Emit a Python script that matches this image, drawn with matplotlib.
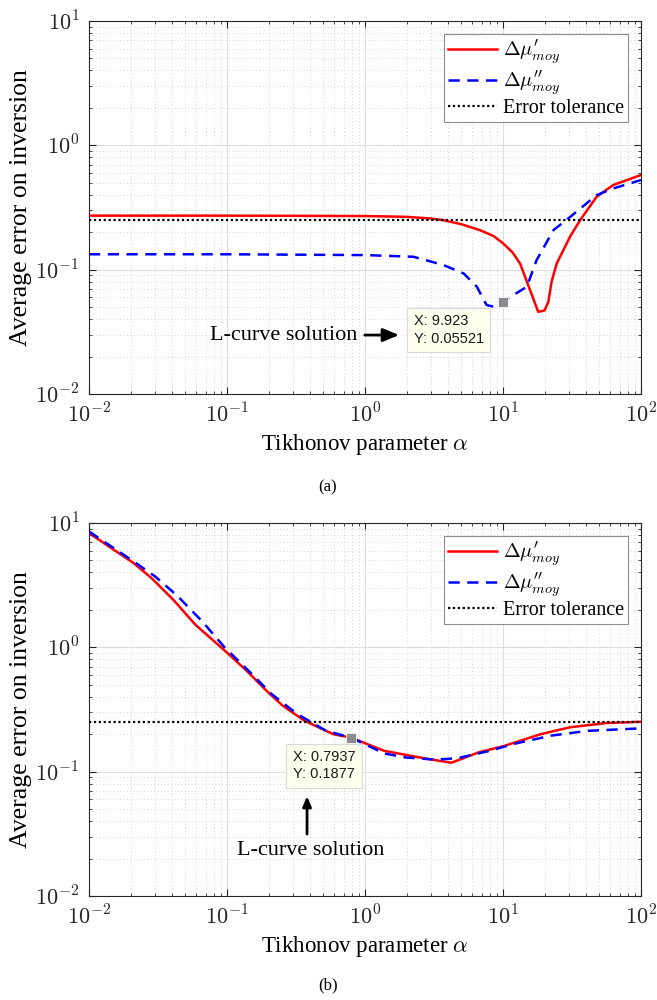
import matplotlib
matplotlib.use("Agg")
import numpy as np
import matplotlib.pyplot as plt
from matplotlib.ticker import LogLocator, NullFormatter, FuncFormatter

plt.rcParams['font.family'] = ['Liberation Serif', 'DejaVu Serif']
plt.rcParams['mathtext.fontset'] = 'cm'

# ---- panel (a) data ----
alpha_a_re = [0.01, 0.1, 1, 2, 3, 3.7, 5, 6.8, 8.5, 10, 11.7, 13.3, 15.7, 18, 20, 21.3, 22.5,
              24.5, 30.6, 36.2, 47.7, 63, 100]
err_a_re = [0.272, 0.272, 0.27, 0.266, 0.258, 0.25, 0.232, 0.208, 0.187, 0.163, 0.138, 0.112,
            0.0686, 0.0458, 0.047, 0.055, 0.08, 0.112, 0.184, 0.25, 0.386, 0.48, 0.577]
alpha_a_im = [0.01, 0.1, 1, 2.24, 3.7, 5.2, 6.46, 7.6, 8.75, 9.923, 11.9, 14.9, 17.5,
              23.2, 30.6, 47.7, 63, 100]
err_a_im = [0.133, 0.133, 0.131, 0.127, 0.109, 0.093, 0.073, 0.052, 0.050, 0.05521,
            0.0625, 0.073, 0.119, 0.208, 0.265, 0.398, 0.45, 0.526]
tip_a = (9.923, 0.05521)

# ---- panel (b) data ----
alpha_b_re = [0.01, 0.0211, 0.0285, 0.041, 0.059, 0.099, 0.138, 0.198, 0.253, 0.364,
              0.59, 0.7937, 1.38, 2.69, 4.23, 6.67, 10.2, 18.7, 30.3, 55.6, 100]
err_b_re = [8.3, 4.75, 3.59, 2.4, 1.52, 0.916, 0.652, 0.436, 0.34, 0.257,
            0.2, 0.1877, 0.147, 0.128, 0.118, 0.143, 0.161, 0.2, 0.227, 0.246, 0.252]
alpha_b_im = [0.01, 0.0211, 0.0303, 0.0436, 0.0667, 0.096, 0.147, 0.211, 0.322, 0.523,
              0.7937, 1.38, 1.98, 3.22, 4.63, 8.0, 12.2, 22.4, 41, 100]
err_b_im = [8.55, 4.9, 3.7, 2.6, 1.6, 1.0, 0.63, 0.42, 0.291, 0.213,
            0.1877, 0.14, 0.13, 0.125, 0.128, 0.147, 0.168, 0.195, 0.213, 0.223]
tip_b = (0.7937, 0.1877)

tolerance = 0.25


def decade_label(v, pos):
    return r'$10^{%d}$' % int(round(np.log10(v)))


def draw_panel(ax, ar, er, ai, ei, tip, tip_txt, tip_off):
    ax.plot(ar, er, color='#ff0000', lw=1.8, label=r"$\Delta\mu^{\prime}_{moy}$", zorder=3)
    ax.plot(ai, ei, color='#0000ff', lw=1.8, ls=(0, (4.5, 3)),
            label=r"$\Delta\mu^{\prime\prime}_{moy}$", zorder=3)
    ax.axhline(tolerance, color='black', lw=1.6, ls=(0, (1, 1.2)),
               label='Error tolerance', zorder=3)
    ax.set_xscale('log')
    ax.set_yscale('log')
    ax.set_xlim(1e-2, 1e2)
    ax.set_ylim(1e-2, 1e1)
    for axis in (ax.xaxis, ax.yaxis):
        axis.set_major_locator(LogLocator(base=10, numticks=10))
        axis.set_minor_locator(LogLocator(base=10, subs=range(2, 10), numticks=20))
        axis.set_major_formatter(FuncFormatter(decade_label))
        axis.set_minor_formatter(NullFormatter())
    ax.grid(True, which='major', color='#dedede', lw=0.8, ls='-')
    ax.grid(True, which='minor', color='#d4d4d4', lw=0.7, ls=(0, (1, 2.5)))
    ax.set_axisbelow(True)
    ax.tick_params(which='both', direction='in', top=True, right=True,
                   color='#262626', labelsize=16, pad=7, labelcolor='#262626')
    ax.tick_params(which='major', length=5)
    ax.tick_params(which='minor', length=2.5)
    for s in ax.spines.values():
        s.set_color('#262626')
        s.set_linewidth(0.8)
    ax.set_xlabel(r'Tikhonov parameter $\alpha$', fontsize=16.5, labelpad=3)
    ax.set_ylabel('Average error on inversion', fontsize=18.5, labelpad=2)

    leg = ax.legend(loc='upper right', bbox_to_anchor=(1 - 13 / 552, 1 - 13 / 373),
                    fontsize=14.5, fancybox=False, framealpha=1, edgecolor='#8c8c8c',
                    handlelength=2.4, handletextpad=0.3, borderpad=0.2,
                    labelspacing=0.1, borderaxespad=0)
    leg.get_frame().set_linewidth(0.8)

    ax.plot([tip[0]], [tip[1]], marker='s', ms=7, color='#8c8c8c',
            mec='white', mew=0.6, zorder=5)
    ax.annotate(tip_txt, xy=tip, xytext=tip_off, textcoords='offset points',
                ha='left', va='top', fontsize=10.5, family='Liberation Sans',
                linespacing=1.3, color='#1a1a1a',
                bbox=dict(boxstyle='square,pad=0.45', fc='#ffffee', ec='#d9d9d9', lw=0.8),
                zorder=6)


fig = plt.figure(figsize=(6.57, 10), dpi=100)
ax1 = fig.add_axes([89 / 657, 1 - 394 / 1000, 552 / 657, 373 / 1000])
ax2 = fig.add_axes([89 / 657, 1 - 896 / 1000, 552 / 657, 373 / 1000])

draw_panel(ax1, alpha_a_re, err_a_re, alpha_a_im, err_a_im, tip_a,
           'X: 9.923\nY: 0.05521', (-64, -9))
draw_panel(ax2, alpha_b_re, err_b_re, alpha_b_im, err_b_im, tip_b,
           'X: 0.7937\nY: 0.1877', (-42, -9))

ax1.annotate('L-curve solution', xy=(0.5616, 0.158), xytext=(0.487, 0.158),
             xycoords='axes fraction', textcoords='axes fraction',
             ha='right', va='center', fontsize=16,
             arrowprops=dict(arrowstyle='-|>,head_length=0.6,head_width=0.25',
                             color='black', lw=2, shrinkA=3, shrinkB=0))
ax2.annotate('', xy=(0.395, 0.268), xytext=(0.395, 0.166),
             xycoords='axes fraction', textcoords='axes fraction',
             arrowprops=dict(arrowstyle='-|>,head_length=0.6,head_width=0.25',
                             color='black', lw=2, shrinkA=0, shrinkB=0))
ax2.text(0.401, 0.123, 'L-curve solution', transform=ax2.transAxes,
         ha='center', va='center', fontsize=16)

fig.text(328 / 657, 1 - 487 / 1000, '(a)', ha='center', va='center', fontsize=12)
fig.text(328 / 657, 1 - 985 / 1000, '(b)', ha='center', va='center', fontsize=12)

fig.savefig('out.png', dpi=100)
